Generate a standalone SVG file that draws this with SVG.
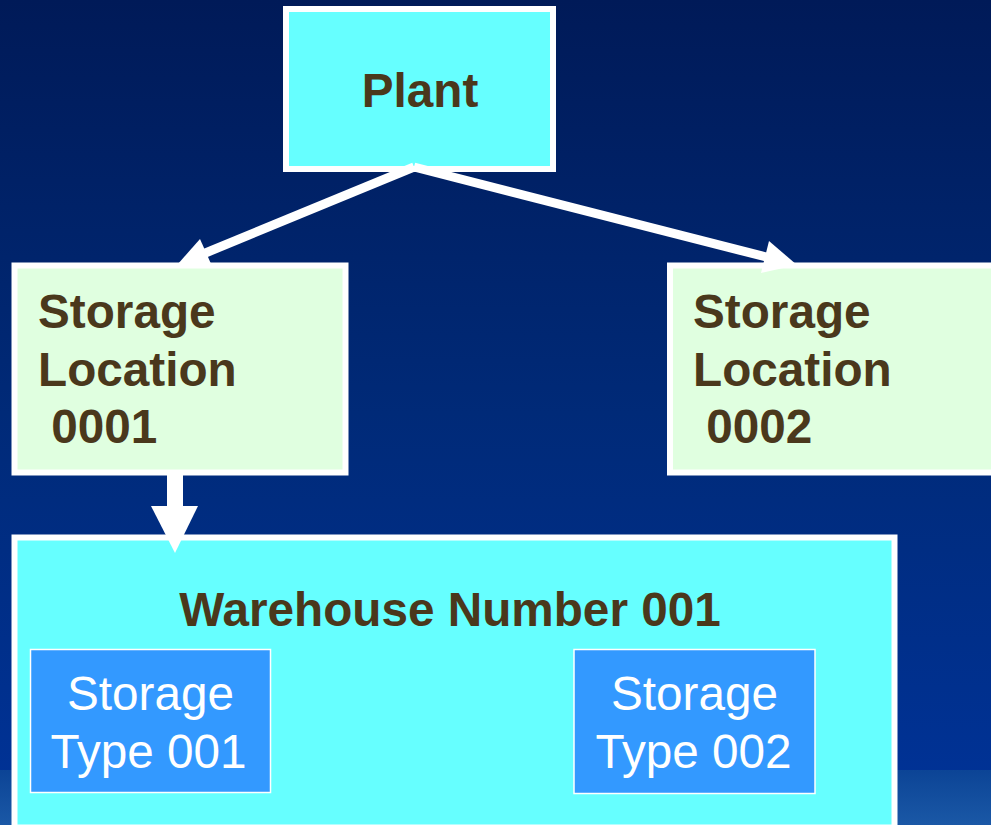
<svg xmlns="http://www.w3.org/2000/svg" width="991" height="825" viewBox="0 0 991 825">
<defs>
<linearGradient id="bg" x1="0" y1="0" x2="0" y2="1">
<stop offset="0" stop-color="#001a58"/>
<stop offset="0.5" stop-color="#002a78"/>
<stop offset="1" stop-color="#003399"/>
</linearGradient>
<linearGradient id="bg2" x1="0" y1="0" x2="0" y2="1">
<stop offset="0" stop-color="#0c4496"/>
<stop offset="1" stop-color="#1a58a6"/>
</linearGradient>
<style>
.bold{font-family:"Liberation Sans",Arial,sans-serif;font-weight:bold;font-size:47.7px;fill:#4a381c}
.type{font-family:"Liberation Sans",Arial,sans-serif;font-size:47.7px;fill:#ffffff;text-anchor:middle}
.box{stroke:#ffffff;stroke-width:6}
.conn{stroke:#ffffff;stroke-width:9;fill:none}
.head{fill:#ffffff}
</style>
</defs>
<rect x="0" y="0" width="991" height="825" fill="url(#bg)"/>
<rect x="0" y="770" width="991" height="55" fill="url(#bg2)"/>

<g id="plant">
<rect class="box" x="286" y="9" width="267" height="160" fill="#66ffff"/>
<text class="bold" x="420" y="107" text-anchor="middle">Plant</text>
</g>

<g id="sl0001">
<rect class="box" x="14.5" y="265.5" width="331" height="207" fill="#e0ffe0"/>
<text class="bold" x="38" y="328">Storage</text>
<text class="bold" x="38" y="386">Location</text>
<text class="bold" x="38" y="443" xml:space="preserve"> 0001</text>
</g>

<g id="sl0002">
<rect class="box" x="670" y="265.5" width="331" height="207" fill="#e0ffe0"/>
<text class="bold" x="693" y="328">Storage</text>
<text class="bold" x="693" y="386">Location</text>
<text class="bold" x="693" y="443" xml:space="preserve"> 0002</text>
</g>

<g id="warehouse">
<rect class="box" x="14.5" y="537.5" width="880" height="290" fill="#66ffff"/>
<text class="bold" x="450" y="626" text-anchor="middle">Warehouse Number 001</text>
</g>

<g id="type001">
<rect x="30.5" y="649.5" width="240" height="143" fill="#3399ff" stroke="#ffffff" stroke-width="1.5"/>
<text class="type" x="150.5" y="710">Storage</text>
<text class="type" x="148.5" y="768">Type 001</text>
</g>

<g id="type002">
<rect x="574" y="649.5" width="241" height="144" fill="#3399ff" stroke="#ffffff" stroke-width="1.5"/>
<text class="type" x="694.5" y="710">Storage</text>
<text class="type" x="693.5" y="768">Type 002</text>
</g>

<g id="connectors">
<line class="conn" x1="414" y1="167" x2="203" y2="254"/>
<polygon class="head" points="177,265 200,239 212,266"/>
<line class="conn" x1="414" y1="167" x2="770" y2="258"/>
<polygon class="head" points="797,265 769,241 761,273"/>
<rect class="head" x="167" y="473" width="16" height="34"/>
<polygon class="head" points="151,506 198,506 175,553"/>
</g>
</svg>
